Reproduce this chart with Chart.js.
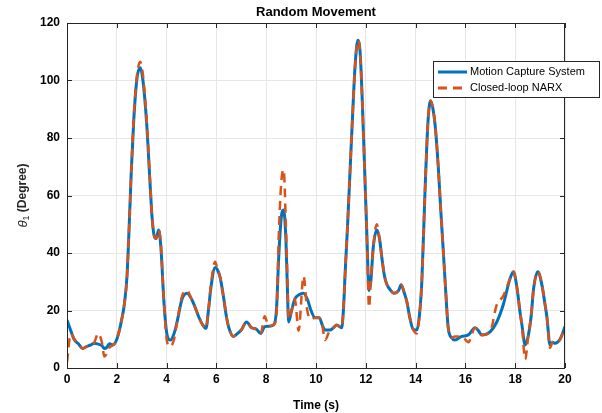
<!DOCTYPE html>
<html>
<head>
<meta charset="utf-8">
<script src="https://cdn.jsdelivr.net/npm/chart.js@4.4.0/dist/chart.umd.min.js"></script>
<style>
  html, body { margin: 0; padding: 0; background: #fff; }
  canvas { display: block; }
</style>
</head>
<body>
<canvas id="movementChart" width="602" height="413"></canvas>
<script>
// time stamps (s)
const timeValues = [
  0.0, 0.15, 0.3, 0.45, 0.63, 0.8, 0.95, 1.1, 1.25, 1.4, 1.5, 1.6, 1.7, 1.85,
  2.0, 2.1, 2.2, 2.3, 2.41, 2.5, 2.58, 2.68, 2.8, 2.94, 3.05, 3.2, 3.33, 3.42,
  3.5, 3.58, 3.68, 3.77, 3.9, 4.02, 4.15, 4.3, 4.42, 4.62, 4.82, 5.0, 5.15, 5.28,
  5.45, 5.58, 5.68, 5.78, 5.95, 6.05, 6.15, 6.28, 6.4, 6.5, 6.68, 6.85, 7.0, 7.21,
  7.41, 7.61, 7.78, 7.94, 8.1, 8.3, 8.41, 8.5, 8.6, 8.7, 8.79, 8.85, 8.9, 9.02,
  9.15, 9.3, 9.5, 9.65, 9.8, 9.96, 10.13, 10.25, 10.36, 10.56, 10.7, 10.83, 11.03, 11.1,
  11.17, 11.27, 11.37, 11.47, 11.57, 11.68, 11.77, 11.85, 11.95, 12.04, 12.13, 12.2, 12.3, 12.44,
  12.55, 12.65, 12.75, 12.85, 13.0, 13.12, 13.32, 13.42, 13.55, 13.65, 13.78, 13.9, 14.05, 14.15,
  14.25, 14.38, 14.5, 14.6, 14.7, 14.8, 14.91, 15.01, 15.11, 15.2, 15.31, 15.45, 15.58, 15.85,
  16.12, 16.39, 16.52, 16.65, 16.99, 17.26, 17.52, 17.79, 17.93, 18.07, 18.2, 18.27, 18.4, 18.53,
  18.64, 18.74, 18.91, 19.07, 19.2, 19.27, 19.4, 19.5, 19.6, 19.8, 20.0
];

// Motion Capture System (degree)
const captureValues = [
  16.7, 13, 9.7, 8.5, 6.8, 7.5, 8, 8.6, 8.3, 7.8, 6.8, 7.2, 8.4, 8,
  10, 13, 17, 22, 32, 50, 68, 86, 100, 104.5, 100, 85, 65, 52,
  46, 45, 48, 42, 22, 11.5, 9.7, 12, 16, 24, 26, 24, 21, 18,
  15, 13.8, 20, 28, 35, 34, 31.5, 25, 18, 14, 11, 12, 13.2, 16,
  14, 13.5, 12, 14.4, 14.5, 15, 20, 38, 52, 55, 45, 28, 16, 20,
  24, 25.4, 26, 24, 20, 17.5, 17.5, 15, 13.2, 13.2, 14, 15, 14, 20,
  33, 50, 69, 88, 105, 114, 110, 95, 70, 47, 27, 30, 42, 48,
  45, 38, 32, 29, 27, 26, 27, 29, 26, 23, 17, 13.5, 13.2, 18,
  30, 62, 86, 93, 90, 83, 70, 55, 41, 28, 14, 10.5, 9.7, 11,
  11.5, 14, 13, 11.5, 12.6, 16, 22, 31, 33.5, 28, 19, 15, 8, 11.5,
  18, 27.7, 33.5, 29, 22, 18, 8, 9, 8.6, 10, 14.4
];

// Closed-loop NARX (degree)
const narxValues = [
  2, 12, 10, 8.5, 6.8, 7.5, 8, 9, 12, 9, 4, 5, 7, 8,
  10, 13, 17, 22, 32, 50, 68, 87, 101, 106.5, 102, 86, 66, 52,
  46, 45, 48, 43, 22, 9, 7.5, 10, 16, 25, 27, 24, 21, 18,
  15, 13.8, 20, 29, 37, 34, 31.5, 25, 18, 14, 11, 12, 13.2, 16,
  14, 13.5, 12, 18, 14.5, 15, 18, 45, 64, 69, 50, 32, 17, 20,
  24, 13, 32, 20, 17, 17.5, 17.5, 15, 9.7, 13.2, 14, 15, 14, 20,
  33, 50, 69, 88, 105, 114, 110, 95, 70, 47, 21, 30, 42, 50,
  45, 38, 32, 29, 27, 26, 27, 29, 26, 23, 17, 13.5, 12, 18,
  30, 62, 86, 93, 90, 83, 70, 55, 41, 28, 14, 10.5, 11, 11,
  9, 14, 13, 11.5, 12.6, 22, 25, 31, 33.5, 28, 19, 15, 3, 11.5,
  18, 27.7, 33.5, 29, 22, 18, 7, 9, 8.6, 10, 14.4
];

const seriesNames = ['Motion Capture System', 'Closed-loop NARX'];
const xTicks = [0, 2, 4, 6, 8, 10, 12, 14, 16, 18, 20];
const yTicks = [0, 20, 40, 60, 80, 100, 120];

const captureColor = '#0072BD';
const narxColor = '#D95319';
const axisColor = '#262626';
const fontName = '"Liberation Sans", Arial, sans-serif';

function toPoints(values) {
  return timeValues.map((t, i) => ({ x: t, y: values[i] }));
}

// title, y-axis label, box, inward ticks and legend in MATLAB style
const matlabDecor = {
  id: 'matlabDecor',
  afterDraw(chart) {
    const ctx = chart.ctx;
    const area = chart.chartArea;
    const xs = chart.scales.x;
    const ys = chart.scales.y;
    ctx.save();

    // box
    ctx.strokeStyle = axisColor;
    ctx.lineWidth = 1;
    ctx.strokeRect(area.left + 0.5, area.top + 0.5, area.right - area.left - 1, area.bottom - area.top);

    // inward ticks
    ctx.beginPath();
    xTicks.forEach(v => {
      const px = Math.round(xs.getPixelForValue(v)) + 0.5;
      ctx.moveTo(px, area.bottom); ctx.lineTo(px, area.bottom - 5);
      ctx.moveTo(px, area.top); ctx.lineTo(px, area.top + 5);
    });
    yTicks.forEach(v => {
      const py = Math.round(ys.getPixelForValue(v)) + 0.5;
      ctx.moveTo(area.left, py); ctx.lineTo(area.left + 5, py);
      ctx.moveTo(area.right, py); ctx.lineTo(area.right - 5, py);
    });
    ctx.stroke();

    // title
    ctx.fillStyle = '#000';
    ctx.font = 'bold 13px ' + fontName;
    ctx.textAlign = 'center';
    ctx.textBaseline = 'middle';
    ctx.fillText('Random Movement', (area.left + area.right) / 2, 12);

    // y-axis label: theta_1 (Degree)
    ctx.save();
    ctx.translate(23, (area.top + area.bottom) / 2);
    ctx.rotate(-Math.PI / 2);
    ctx.textAlign = 'left';
    ctx.textBaseline = 'middle';
    const partA = 'θ';
    const partB = '1';
    const partC = ' (Degree)';
    ctx.font = 'italic 13px ' + fontName;
    const wA = ctx.measureText(partA).width;
    ctx.font = '9px ' + fontName;
    const wB = ctx.measureText(partB).width;
    ctx.font = 'bold 12px ' + fontName;
    const wC = ctx.measureText(partC).width;
    let x0 = -(wA + wB + wC) / 2;
    ctx.fillStyle = axisColor;
    ctx.font = 'italic 13px ' + fontName;
    ctx.fillText(partA, x0, 0);
    ctx.font = '9px ' + fontName;
    ctx.fillText(partB, x0 + wA, 4);
    ctx.font = 'bold 12px ' + fontName;
    ctx.fillText(partC, x0 + wA + wB, 0);
    ctx.restore();

    // legend
    const lx = 433, ly = 61, lw = 167, lh = 37;
    ctx.fillStyle = '#fff';
    ctx.fillRect(lx, ly, lw, lh);
    ctx.strokeStyle = axisColor;
    ctx.lineWidth = 1;
    ctx.strokeRect(lx + 0.5, ly + 0.5, lw - 1, lh - 1);
    const rows = [ly + 11, ly + 27];
    ctx.lineWidth = 3;
    ctx.strokeStyle = captureColor;
    ctx.setLineDash([]);
    ctx.beginPath(); ctx.moveTo(438, rows[0]); ctx.lineTo(467, rows[0]); ctx.stroke();
    ctx.strokeStyle = narxColor;
    ctx.setLineDash([9, 6]);
    ctx.beginPath(); ctx.moveTo(438, rows[1]); ctx.lineTo(467, rows[1]); ctx.stroke();
    ctx.setLineDash([]);
    ctx.fillStyle = '#000';
    ctx.font = '11px ' + fontName;
    ctx.textAlign = 'left';
    ctx.textBaseline = 'middle';
    ctx.fillText(seriesNames[0], 470, rows[0]);
    ctx.fillText(seriesNames[1], 470, rows[1]);

    ctx.restore();
  }
};

new Chart(document.getElementById('movementChart'), {
  type: 'line',
  data: {
    datasets: [
      {
        label: seriesNames[0],
        data: toPoints(captureValues),
        borderColor: captureColor,
        borderWidth: 3,
        pointRadius: 0,
        cubicInterpolationMode: 'monotone',
        fill: false,
        order: 2
      },
      {
        label: seriesNames[1],
        data: toPoints(narxValues),
        borderColor: narxColor,
        borderWidth: 2.5,
        borderDash: [9, 6],
        pointRadius: 0,
        cubicInterpolationMode: 'monotone',
        fill: false,
        order: 1
      }
    ]
  },
  options: {
    responsive: false,
    devicePixelRatio: 1,
    animation: false,
    layout: { padding: { top: 23, right: 37, left: 0, bottom: 0 } },
    plugins: {
      legend: { display: false },
      title: { display: false },
      tooltip: { enabled: false }
    },
    scales: {
      x: {
        type: 'linear',
        min: 0,
        max: 20,
        afterFit(scale) { scale.height = 45; },
        afterBuildTicks(scale) { scale.ticks = xTicks.map(v => ({ value: v })); },
        ticks: {
          color: '#000',
          font: { family: fontName, size: 12, weight: 'bold' },
          padding: 4,
          maxRotation: 0
        },
        grid: { color: '#e6e6e6', lineWidth: 1, drawTicks: false },
        border: { display: false },
        title: {
          display: true,
          text: 'Time (s)',
          color: '#000',
          font: { family: fontName, size: 12, weight: 'bold' },
          padding: { top: 4, bottom: 0 }
        }
      },
      y: {
        type: 'linear',
        min: 0,
        max: 120,
        afterFit(scale) { scale.width = 67; },
        afterBuildTicks(scale) { scale.ticks = yTicks.map(v => ({ value: v })); },
        ticks: {
          color: '#000',
          font: { family: fontName, size: 12, weight: 'bold' },
          padding: 7
        },
        grid: { color: '#e6e6e6', lineWidth: 1, drawTicks: false },
        border: { display: false }
      }
    }
  },
  plugins: [matlabDecor]
});
</script>
</body>
</html>
